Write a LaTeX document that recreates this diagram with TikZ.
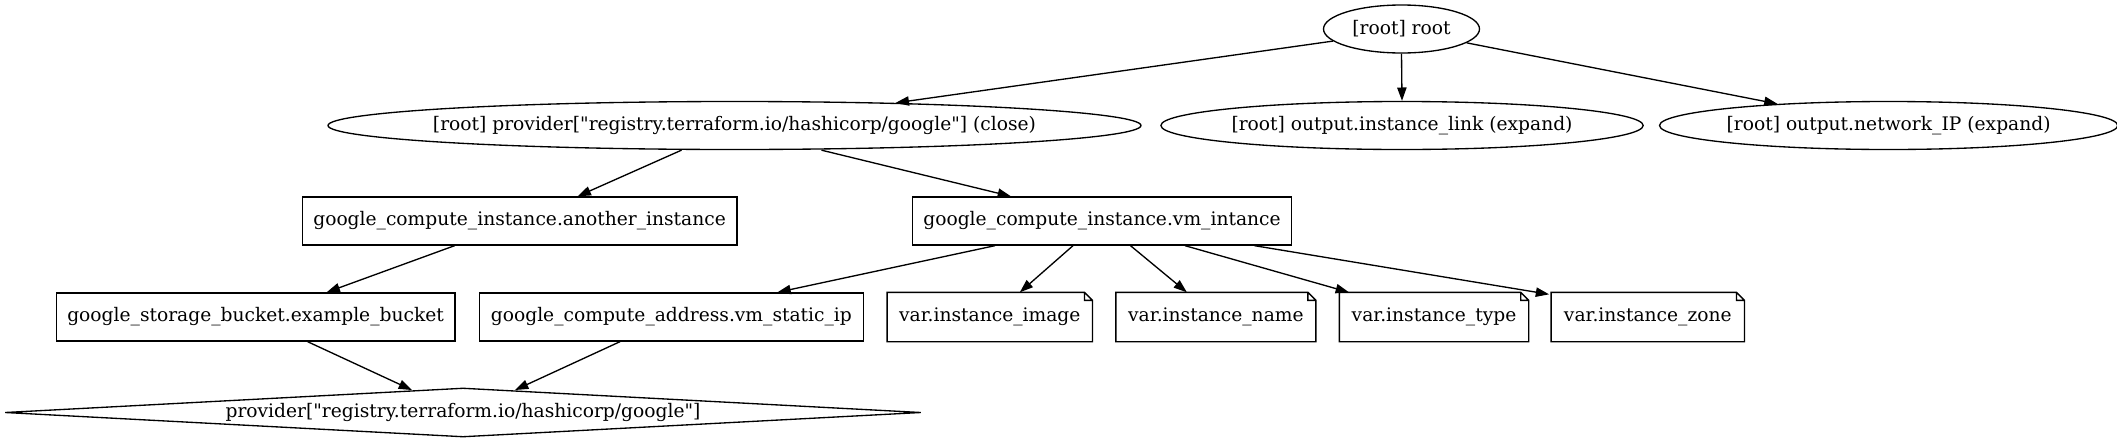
\documentclass[tikz,border=0pt]{standalone}
\usepackage{fontspec}
\setmainfont{DejaVu Serif}[Ligatures=TeXOff]
\usepackage{tikz}
\usetikzlibrary{shapes.geometric, arrows.meta}

\begin{document}
\begin{tikzpicture}[x=0.75pt, y=-0.75pt, line width=1pt, font=\fontsize{14pt}{16pt}\selectfont]
		\tikzstyle{oval} = [ellipse, draw=black, minimum height=36pt, inner sep=0pt]
		
		\tikzstyle{resource} = [rectangle, draw=black, minimum height=36pt, inner sep=0pt]
		
		\tikzstyle{varnote} = [rectangle, minimum height=36pt, inner sep=0pt]
		
		\tikzstyle{providerbox} = [diamond, aspect=18, draw=black, minimum width=687pt, minimum height=36.75pt, inner sep=0pt]
		
		\tikzstyle{arrow} = [-{Triangle[length=10pt, width=7pt]}]
		
		\useasboundingbox (0,0) rectangle (2117,443);
		
		% Root and outputs
		\node (root) [oval, minimum width=117pt] at (1401.5,29) {[root] root};
		\node (pclose) [oval, minimum width=609.75pt, inner xsep=-12pt] at (734.5,125.5) {[root] provider["registry.terraform.io/hashicorp/google"] (close)};
		\node (link) [oval, minimum width=353.25pt] at (1402,125.5) {[root] output.instance\_link (expand)};
		\node (netip) [oval, minimum width=339.5pt] at (1888.6,125.5) {[root] output.network\_IP (expand)};
		
		% Instances
		\node (another) [resource, minimum width=326pt] at (519.6,221) {google\_compute\_instance.another\_instance};
		\node (vm) [resource, minimum width=284pt] at (1102,221) {google\_compute\_instance.vm\_intance};
		
		% Bucket, address and variables
		\node (bucket) [resource, minimum width=299pt] at (255.6,317) {google\_storage\_bucket.example\_bucket};
		\node (address) [resource, minimum width=288pt] at (671.4,317) {google\_compute\_address.vm\_static\_ip};
		\node (vimage) [varnote, minimum width=153pt] at (989.8,317) {var.instance\_image};
		\node (vname) [varnote, minimum width=149pt] at (1215.9,317) {var.instance\_name};
		\node (vtype) [varnote, minimum width=141pt] at (1434,317) {var.instance\_type};
		\node (vzone) [varnote, minimum width=144pt] at (1647.8,317) {var.instance\_zone};
		
		% Provider
		\node (provider) [providerbox] at (463,412.5) {provider["registry.terraform.io/hashicorp/google"]};
		
		% Note outlines
		\foreach \v in {vimage, vname, vtype, vzone}
			\draw (\v.south west) -- (\v.south east) -- ([shift={(0,8)}]\v.north east) -- ([shift={(-8,0)}]\v.north east) -- (\v.north west) -- cycle
				([shift={(-8,0)}]\v.north east) -- ([shift={(-8,8)}]\v.north east) -- ([shift={(0,8)}]\v.north east);
		
		% Arrows
		\draw [arrow] (root.190) -- (pclose.8.4);
		\draw [arrow] (root.south) -- (link.north);
		\draw [arrow] (root.348) -- (netip.169.3);
		\draw [arrow] ([shift={(-53,0)}]pclose.south) -- ([shift={(58,0)}]another.north);
		\draw [arrow] ([shift={(87,0)}]pclose.south) -- ([shift={(-91,0)}]vm.north);
		\draw [arrow] ([shift={(-65,0)}]another.south) -- ([shift={(71,0)}]bucket.north);
		\draw [arrow] ([shift={(-107,0)}]vm.south) -- ([shift={(106,0)}]address.north);
		\draw [arrow] ([shift={(-29,0)}]vm.south) -- ([shift={(30,0)}]vimage.north);
		\draw [arrow] ([shift={(28.5,0)}]vm.south) -- ([shift={(-29,0)}]vname.north);
		\draw [arrow] ([shift={(83,0)}]vm.south) -- ([shift={(-85,0)}]vtype.north);
		\draw [arrow] ([shift={(152.5,0)}]vm.south) -- ([shift={(-2,2)}]vzone.north west);
		\draw [arrow] ([shift={(52,0)}]bucket.south) -- ([shift={(-51,2.7)}]provider.north);
		\draw [arrow] ([shift={(-51.4,0)}]address.south) -- ([shift={(52,2.7)}]provider.north);
		\end{tikzpicture}
\end{document}
